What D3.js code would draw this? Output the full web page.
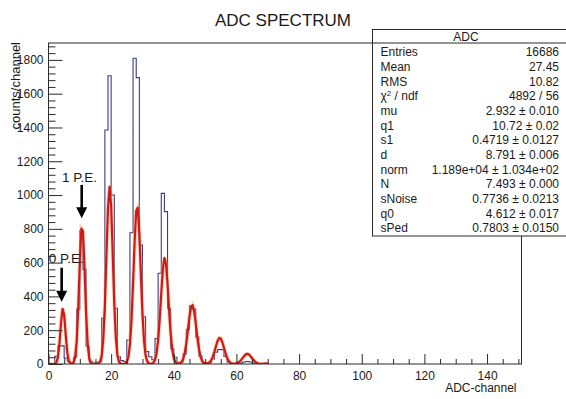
<!DOCTYPE html>
<html><head><meta charset="utf-8">
<script src="https://cdn.jsdelivr.net/npm/d3@7"></script>
<style>
html,body{margin:0;padding:0;background:#fff;}
svg{display:block;}
text{font-family:"Liberation Sans",Arial,Helvetica,sans-serif;fill:#1a1a1a;}
</style></head><body>
<svg id="c" width="566" height="399"></svg>
<script>
// ---------- data ----------
const title = "ADC SPECTRUM";
const xLabel = "ADC-channel";
const yLabel = "counts/channel";
const binWidth = 1;
// histogram contents, bins [0,1), [1,2), ... [69,70); all later bins are empty
const counts = [0,2,45,107,107,35,15,5,40,325,
  790,560,105,15,5,10,15,270,1385,1706,
  1000,330,43,20,15,142,777,1810,1695,704,
  280,73,43,25,150,537,1010,902,330,90,
  40,10,12,60,205,345,325,160,48,10,
  5,8,30,70,85,85,45,10,3,2,
  3,5,12,15,12,5,2,1,0,0];
// fit curve sampled every 0.5 channel from 0 to 70
const fitStep = 0.5;
const fitValues = [0,0,0,0,1,8,39,120,243,327,
  291,172,67,18,3,2,9,41,136,333,
  602,801,787,570,304,120,35,7,1,0,
  0,0,3,14,51,151,351,643,927,1050,
  936,656,361,156,53,14,3,0,1,3,
  12,41,114,259,479,728,907,925,773,529,
  297,137,51,16,4,1,2,8,24,64,
  142,266,420,559,628,595,475,319,181,87,
  35,12,3,2,4,12,30,65,123,199,
  278,335,349,312,242,161,93,46,20,7,
  3,2,5,11,24,45,75,108,138,154,
  151,129,97,64,37,19,8,3,2,2,
  4,8,14,24,36,48,57,60,56,46,
  34,22,13,7,3,1,1,1,2,3,5];
const xTickValues = [0,20,40,60,80,100,120,140];
const yTickValues = [0,200,400,600,800,1000,1200,1400,1600,1800];
const statsTitle = "ADC";
const statNames = ["Entries","Mean","RMS","CHI2","mu","q1","s1","d","norm","N","sNoise","q0","sPed"];
const statValues = ["16686","27.45","10.82","4892 / 56","2.932 \u00b1 0.010","10.72 \u00b1 0.02",
  "0.4719 \u00b1 0.0127","8.791 \u00b1 0.006","1.189e+04 \u00b1 1.034e+02","7.493 \u00b1 0.000",
  "0.7736 \u00b1 0.0213","4.612 \u00b1 0.017","0.7803 \u00b1 0.0150"];
const annLabels = ["0 P.E.","1 P.E."];
const annLabelX = [0.1, 4.3];
const annLabelY = [600, 1077];
const annArrowX = [4.2, 10.6];
const annArrowFrom = [570, 1060];
const annArrowTo = [368, 862];

// ---------- layout ----------
const svg = d3.select("#c");
svg.append("rect").attr("width",566).attr("height",399).attr("fill","#fff");
const frame = {left:48.5, right:521.5, top:43, bottom:364};
const xMax = 151, yMax = 1900;
const x = d3.scaleLinear([0,xMax],[frame.left,frame.right]);
const y = d3.scaleLinear([0,yMax],[frame.bottom,frame.top]);

svg.append("text").attr("x",283).attr("y",26).attr("text-anchor","middle")
  .attr("font-size",17).text(title);

svg.append("clipPath").attr("id","clip").append("rect")
  .attr("x",frame.left).attr("y",frame.top).attr("width",frame.right-frame.left).attr("height",frame.bottom-frame.top);

// histogram
const histPts = counts.map((c,i)=>[i*binWidth,c]);
histPts.push([counts.length*binWidth,0]);
const histLine = d3.line().x(d=>x(d[0])).y(d=>y(d[1])).curve(d3.curveStepAfter);
svg.append("path").attr("clip-path","url(#clip)").attr("d",histLine(histPts))
  .attr("fill","none").attr("stroke","#3a3a86").attr("stroke-width",1.1);

// fit
const fitPts = fitValues.map((v,i)=>[i*fitStep,v]);
const fitLine = d3.line().x(d=>x(d[0])).y(d=>y(d[1]));
svg.append("path").attr("clip-path","url(#clip)").attr("d",fitLine(fitPts))
  .attr("fill","none").attr("stroke","#f4a460").attr("stroke-opacity",0.45).attr("stroke-width",4);
svg.append("path").attr("clip-path","url(#clip)").attr("d",fitLine(fitPts))
  .attr("fill","none").attr("stroke","#d01818").attr("stroke-width",2.2).attr("stroke-linejoin","round");

// axes
const axisColor = "#2a2a2a";
const xMinor = d3.range(0,xMax,5).filter(v=>!xTickValues.includes(v));
const yMinor = d3.range(0,yMax,40).filter(v=>!yTickValues.includes(v));
const gx = svg.append("g").attr("transform",`translate(0,${frame.bottom})`)
  .call(d3.axisBottom(x).tickValues(xTickValues).tickSize(-10).tickPadding(7).tickFormat(d3.format("d")));
const gxm = svg.append("g").attr("transform",`translate(0,${frame.bottom})`)
  .call(d3.axisBottom(x).tickValues(xMinor).tickSize(-5).tickFormat(""));
const gy = svg.append("g").attr("transform",`translate(${frame.left},0)`)
  .call(d3.axisLeft(y).tickValues(yTickValues).tickSize(-14).tickPadding(5).tickFormat(d3.format("d")));
const gym = svg.append("g").attr("transform",`translate(${frame.left},0)`)
  .call(d3.axisLeft(y).tickValues(yMinor).tickSize(-7).tickFormat(""));
[gx,gxm,gy,gym].forEach(g=>{
  g.select(".domain").remove();
  g.selectAll("line").attr("stroke",axisColor);
  g.selectAll("text").attr("font-size",12).attr("fill","#1a1a1a")
    .style("font-family","'Liberation Sans',Arial,sans-serif");
});

// frame
svg.append("rect").attr("x",frame.left).attr("y",frame.top)
  .attr("width",frame.right-frame.left).attr("height",frame.bottom-frame.top)
  .attr("fill","none").attr("stroke",axisColor).attr("stroke-width",1);

// axis titles
svg.append("text").attr("x",frame.right-5).attr("y",392).attr("text-anchor","end")
  .attr("font-size",12).text(xLabel);
svg.append("text").attr("transform","translate(20,42) rotate(-90)").attr("text-anchor","end")
  .attr("font-size",13).text(yLabel);

// annotations
annLabels.forEach((lab,i)=>{
  svg.append("text").attr("x",x(annLabelX[i])).attr("y",y(annLabelY[i]))
    .attr("font-size",13.5).text(lab);
  const ax = x(annArrowX[i]), y0 = y(annArrowFrom[i]), y1 = y(annArrowTo[i]);
  const headH = 11, headW = 5.5;
  svg.append("line").attr("x1",ax).attr("x2",ax).attr("y1",y0).attr("y2",y1-headH+1)
    .attr("stroke","#000").attr("stroke-width",2.6);
  svg.append("path").attr("d",`M${ax-headW},${y1-headH} L${ax+headW},${y1-headH} L${ax},${y1} Z`)
    .attr("fill","#000");
});

// stats box
const box = {left:372.5, top:29.5, right:572, bottom:236, header:43};
svg.append("rect").attr("x",box.left).attr("y",box.top).attr("width",box.right-box.left)
  .attr("height",box.bottom-box.top).attr("fill","#fff").attr("stroke",axisColor).attr("stroke-width",1);
svg.append("line").attr("x1",box.left).attr("x2",box.right).attr("y1",box.header).attr("y2",box.header)
  .attr("stroke",axisColor);
svg.append("text").attr("x",466).attr("y",40.5).attr("text-anchor","middle").attr("font-size",12).text(statsTitle);
const rowH = 14.67, row0 = 52;
statNames.forEach((nm,i)=>{
  const yy = row0 + i*rowH + 4.3;
  const t = svg.append("text").attr("x",380.5).attr("y",yy).attr("font-size",12);
  if(nm==="CHI2"){
    t.append("tspan").text("\u03c7");
    t.append("tspan").attr("font-size",8).attr("dy",-4.5).text("2");
    t.append("tspan").attr("dy",4.5).text(" / ndf");
  } else t.text(nm);
  svg.append("text").attr("x",559).attr("y",yy).attr("text-anchor","end").attr("font-size",12).text(statValues[i]);
});
</script>
</body></html>
